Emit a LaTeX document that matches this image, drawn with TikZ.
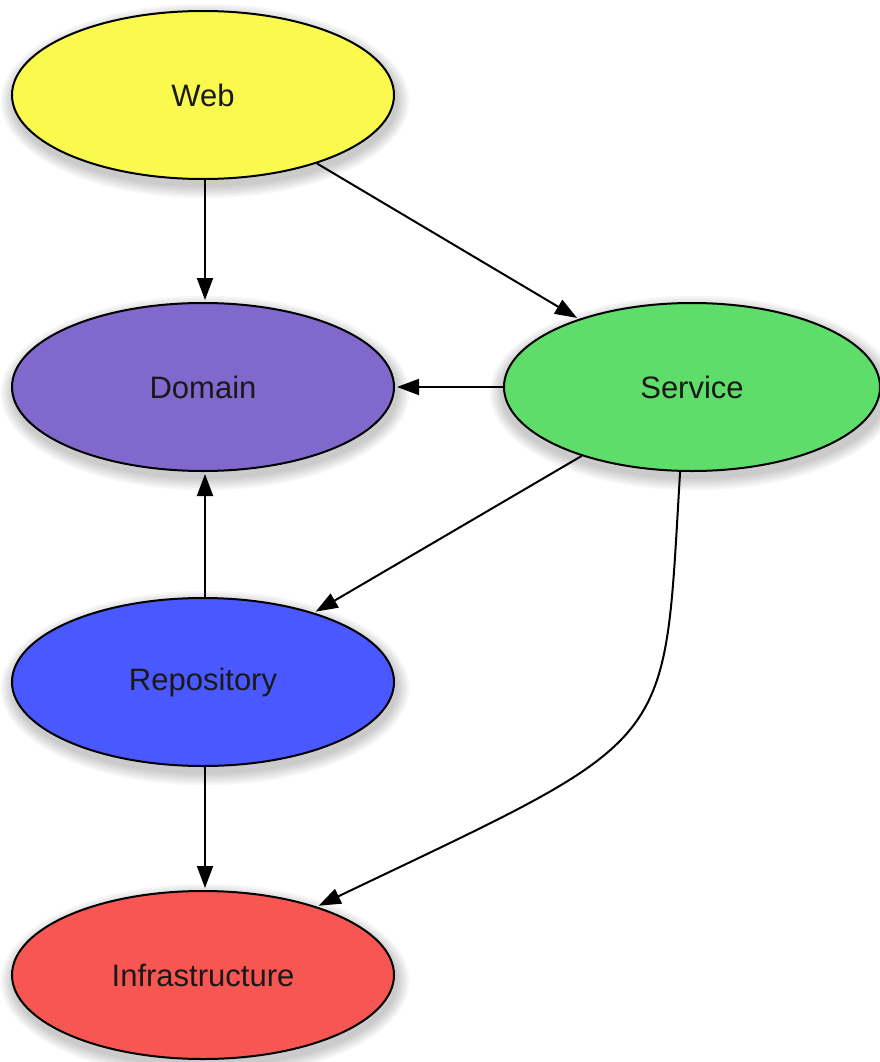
\documentclass[tikz,border=0pt]{standalone}
\usepackage{fontspec}
\setmainfont{Liberation Sans}
\usetikzlibrary{arrows.meta,shapes.geometric}
\definecolor{cweb}{HTML}{FAFA4E}
\definecolor{cdom}{HTML}{8068CC}
\definecolor{csrv}{HTML}{5EDD6A}
\definecolor{crep}{HTML}{4A58FF}
\definecolor{cinf}{HTML}{F75652}
\tikzset{
  layer/.style={ellipse, draw=black, line width=2pt, minimum width=382pt, minimum height=168pt, inner sep=0pt, font=\fontsize{31}{36}\selectfont, text=black!90},
  dep/.style={line width=2pt, -{Triangle[length=22pt,width=16pt]}, shorten >=2pt},
}
\newcommand{\softshadow}[2]{%
  \foreach \k in {1,...,6}{%
    \fill[black, opacity=0.035] (#1+2, #2+6) ellipse ({191+\k*2.2} and {84+\k*2.2});
  }%
}
\begin{document}
\begin{tikzpicture}[x=1pt, y=-1pt]
\useasboundingbox (0,0) rectangle (879,1062);
\fill[white] (0,0) rectangle (879,1062);
\softshadow{203}{95}
\softshadow{203}{387}
\softshadow{692}{387}
\softshadow{203}{682}
\softshadow{203}{975}
\node[layer, fill=cweb] (web) at (203,95) {Web};
\node[layer, fill=cdom] (dom) at (203,387) {Domain};
\node[layer, fill=csrv, minimum width=376pt] (srv) at (692,387) {Service};
\node[layer, fill=crep] (rep) at (203,682) {Repository};
\node[layer, fill=cinf] (inf) at (203,975) {Infrastructure};
\draw[dep] (web.south) ++(2,0) coordinate (w1) -- (w1 |- dom.north);
\draw[dep] (web.-31) -- (srv.149);
\draw[dep] (srv.west) -- (dom.east);
\draw[dep] (srv.-148) -- (rep.32);
\draw[dep] (rep.north) ++(2,0) coordinate (r1) -- (r1 |- dom.south);
\draw[dep] (rep.south) ++(2,0) coordinate (r2) -- (r2 |- inf.north);
\draw[dep] (srv.-98) .. controls (663,754) and (680,733) .. (inf.31);
\end{tikzpicture}
\end{document}
